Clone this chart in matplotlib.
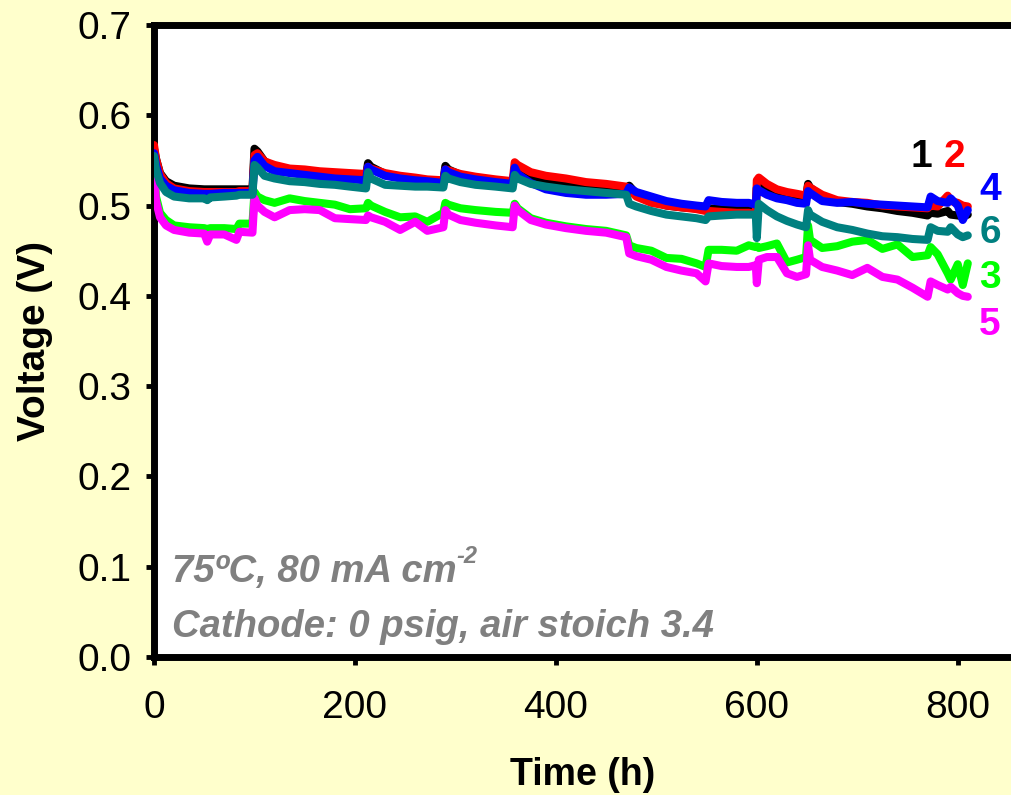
import matplotlib
matplotlib.use("Agg")
import matplotlib.pyplot as plt
import numpy as np

plt.rcParams['font.family'] = ['Liberation Sans', 'DejaVu Sans']

# ---------------- data ----------------
time_h = [
    0, 2, 6, 12, 20, 35, 50, 53, 56, 70,
    82, 85, 98, 100, 103, 110, 120, 135, 150, 165,
    180, 195, 211, 213, 216, 230, 245, 260, 272, 288,
    290, 293, 305, 320, 340, 357, 359, 362, 375, 390,
    410, 430, 450, 470, 473, 480, 495, 510, 525, 540,
    549, 552, 565, 580, 592, 599, 600, 602, 610, 620,
    630, 640, 649, 651, 653, 665, 680, 695, 710, 725,
    740, 755, 770, 773, 780, 790, 793, 800, 805, 810,
]

cell1 = [
    0.563, 0.552, 0.536, 0.527, 0.522, 0.519, 0.518, 0.518, 0.518, 0.518,
    0.518, 0.518, 0.518, 0.563, 0.560, 0.549, 0.543, 0.540, 0.538, 0.536,
    0.535, 0.534, 0.533, 0.547, 0.543, 0.535, 0.532, 0.530, 0.528, 0.527,
    0.544, 0.540, 0.534, 0.530, 0.527, 0.525, 0.540, 0.538, 0.532, 0.528,
    0.526, 0.523, 0.521, 0.518, 0.522, 0.513, 0.505, 0.500, 0.498, 0.497,
    0.496, 0.497, 0.496, 0.495, 0.495, 0.495, 0.520, 0.524, 0.518, 0.514,
    0.511, 0.509, 0.508, 0.524, 0.520, 0.510, 0.504, 0.502, 0.499, 0.497,
    0.494, 0.492, 0.489, 0.492, 0.491, 0.494, 0.490, 0.489, 0.488, 0.490,
]
cell2 = [
    0.567, 0.552, 0.535, 0.525, 0.519, 0.516, 0.515, 0.515, 0.515, 0.515,
    0.515, 0.516, 0.516, 0.556, 0.558, 0.549, 0.545, 0.541, 0.540, 0.538,
    0.537, 0.536, 0.535, 0.543, 0.541, 0.536, 0.533, 0.531, 0.529, 0.528,
    0.540, 0.539, 0.535, 0.532, 0.529, 0.527, 0.548, 0.545, 0.537, 0.533,
    0.530, 0.526, 0.524, 0.521, 0.518, 0.510, 0.503, 0.500, 0.498, 0.496,
    0.494, 0.494, 0.493, 0.492, 0.492, 0.491, 0.528, 0.531, 0.524, 0.518,
    0.515, 0.513, 0.511, 0.522, 0.520, 0.512, 0.506, 0.504, 0.503, 0.500,
    0.499, 0.498, 0.497, 0.500, 0.499, 0.511, 0.505, 0.503, 0.500, 0.499,
]
cell3 = [
    0.545, 0.510, 0.492, 0.484, 0.478, 0.476, 0.475, 0.474, 0.475, 0.475,
    0.474, 0.480, 0.480, 0.515, 0.510, 0.506, 0.503, 0.508, 0.505, 0.503,
    0.501, 0.496, 0.497, 0.503, 0.500, 0.493, 0.487, 0.488, 0.482, 0.492,
    0.503, 0.501, 0.497, 0.495, 0.493, 0.492, 0.502, 0.497, 0.486, 0.481,
    0.477, 0.474, 0.472, 0.467, 0.456, 0.453, 0.450, 0.442, 0.441, 0.436,
    0.432, 0.451, 0.451, 0.450, 0.456, 0.454, 0.455, 0.453, 0.455, 0.458,
    0.437, 0.440, 0.443, 0.478, 0.462, 0.453, 0.455, 0.460, 0.462, 0.452,
    0.457, 0.443, 0.445, 0.454, 0.446, 0.425, 0.418, 0.435, 0.412, 0.436,
]
cell4 = [
    0.558, 0.545, 0.530, 0.522, 0.517, 0.514, 0.513, 0.513, 0.513, 0.514,
    0.514, 0.514, 0.514, 0.550, 0.554, 0.544, 0.538, 0.536, 0.534, 0.532,
    0.530, 0.529, 0.528, 0.543, 0.540, 0.533, 0.530, 0.528, 0.527, 0.525,
    0.540, 0.537, 0.532, 0.529, 0.526, 0.524, 0.542, 0.535, 0.525, 0.518,
    0.514, 0.512, 0.512, 0.513, 0.520, 0.515, 0.510, 0.505, 0.502, 0.500,
    0.499, 0.506, 0.504, 0.503, 0.503, 0.501, 0.519, 0.517, 0.512, 0.508,
    0.506, 0.503, 0.502, 0.516, 0.514, 0.505, 0.503, 0.504, 0.502, 0.501,
    0.500, 0.499, 0.498, 0.510, 0.505, 0.503, 0.508, 0.500, 0.484, 0.495,
]
cell5 = [
    0.536, 0.505, 0.487, 0.478, 0.473, 0.470, 0.469, 0.460, 0.468, 0.468,
    0.462, 0.471, 0.470, 0.508, 0.500, 0.493, 0.487, 0.495, 0.496, 0.495,
    0.486, 0.485, 0.484, 0.489, 0.487, 0.482, 0.473, 0.482, 0.472, 0.476,
    0.495, 0.490, 0.484, 0.481, 0.478, 0.476, 0.500, 0.495, 0.484, 0.479,
    0.475, 0.472, 0.470, 0.465, 0.447, 0.444, 0.440, 0.432, 0.428, 0.425,
    0.416, 0.436, 0.433, 0.432, 0.432, 0.434, 0.414, 0.440, 0.443, 0.443,
    0.425, 0.421, 0.424, 0.456, 0.440, 0.432, 0.428, 0.423, 0.431, 0.421,
    0.418, 0.409, 0.399, 0.416, 0.412, 0.407, 0.410, 0.403, 0.400, 0.399,
]
cell6 = [
    0.555, 0.540, 0.525, 0.515, 0.510, 0.508, 0.508, 0.506, 0.509, 0.510,
    0.511, 0.512, 0.512, 0.545, 0.542, 0.533, 0.530, 0.527, 0.526, 0.524,
    0.523, 0.521, 0.519, 0.537, 0.530, 0.523, 0.522, 0.521, 0.521, 0.520,
    0.533, 0.530, 0.526, 0.523, 0.521, 0.519, 0.534, 0.530, 0.524, 0.521,
    0.518, 0.516, 0.514, 0.512, 0.502, 0.499, 0.494, 0.490, 0.488, 0.486,
    0.484, 0.488, 0.489, 0.490, 0.490, 0.490, 0.464, 0.502, 0.495, 0.488,
    0.483, 0.479, 0.476, 0.495, 0.490, 0.482, 0.476, 0.473, 0.469, 0.466,
    0.465, 0.463, 0.462, 0.476, 0.472, 0.471, 0.476, 0.468, 0.465, 0.467,
]

series_names = ["1", "2", "3", "4", "5", "6"]
series_values = [cell1, cell2, cell3, cell4, cell5, cell6]
series_colors = ["#000000", "#FF0000", "#00FF00", "#0000FF", "#FF00FF", "#008080"]

# end-label positions (data coordinates)
label_t = [764, 797, 832, 832, 832, 832]
label_v = [0.554, 0.554, 0.420, 0.517, 0.368, 0.470]

x_ticks = [0, 200, 400, 600, 800]
y_ticks = [0.0, 0.1, 0.2, 0.3, 0.4, 0.5, 0.6, 0.7]

note_line1 = "75ºC, 80 mA cm"
note_line1_sup = "-2"
note_line2 = "Cathode: 0 psig, air stoich 3.4"

# ---------------- figure ----------------
bg = "#FFFFCC"
fig = plt.figure(figsize=(10.12, 7.95), dpi=100, facecolor=bg)
ax = fig.add_axes([154 / 1012, 1 - 657 / 795, 1 - 154 / 1012, (657 - 25) / 795])
ax.set_facecolor("white")

for vals, col in zip(series_values, series_colors):
    ax.plot(time_h, vals, color=col, lw=5.8, solid_joinstyle="round",
            solid_capstyle="round", zorder=3)

for name, tt, vv, col in zip(series_names, label_t, label_v, series_colors):
    ax.text(tt, vv, name, color=col, fontsize=28, fontweight="bold",
            ha="center", va="center", zorder=4)

note_kw = dict(color="#808080", fontweight="bold", fontstyle="italic")
t1 = ax.text(18, 0.083, note_line1, fontsize=27.5, ha="left", va="baseline", **note_kw)
ax.annotate(note_line1_sup, xy=(1.0, 0.62), xycoords=t1, fontsize=17,
            ha="left", va="bottom", **note_kw)
ax.text(18, 0.022, note_line2, fontsize=27.5, ha="left", va="baseline", **note_kw)

ax.set_xlim(0, 854)
ax.set_ylim(0, 0.7)
ax.set_xticks(x_ticks)
ax.set_yticks(y_ticks)
ax.set_xticklabels([str(v) for v in x_ticks])
ax.set_yticklabels([f"{v:.1f}" for v in y_ticks])

for side in ["left", "bottom", "top"]:
    ax.spines[side].set_linewidth(5)
    ax.spines[side].set_color("black")
ax.spines["right"].set_visible(False)

ax.tick_params(axis="both", direction="out", length=6, width=3.5,
               labelsize=28, colors="black")
ax.tick_params(axis="x", pad=18)
ax.tick_params(axis="y", pad=10)
for t in ax.xaxis.get_major_ticks() + ax.yaxis.get_major_ticks():
    t.tick1line.set_solid_capstyle("round")

ax.set_xlabel("Time (h)", fontsize=27, fontweight="bold", labelpad=22)
ax.set_ylabel("Voltage (V)", fontsize=28, fontweight="bold", labelpad=18)

fig.savefig("out.png", dpi=100, facecolor=bg)
